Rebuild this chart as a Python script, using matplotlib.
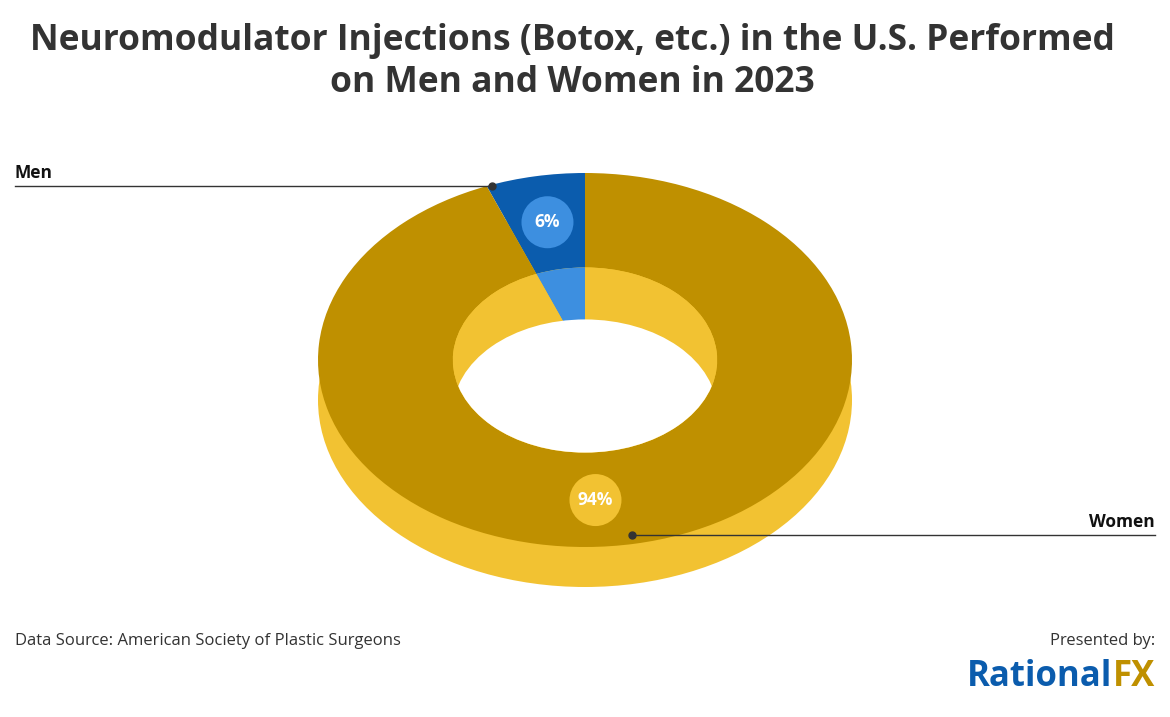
import matplotlib.pyplot as plt
from matplotlib.patches import Wedge, Ellipse, Circle
from matplotlib.transforms import Affine2D
import numpy as np

labels = ['Men', 'Women']
shares = [6, 94]
pct_text = ['6%', '94%']

top_cols = ['#0B5CAD', '#BF9000']
wall_cols = ['#3D8FE0', '#F2C232']

FONT = 'Open Sans'

fig = plt.figure(figsize=(11.7, 7.17), dpi=100)
ax = fig.add_axes([0, 0, 1, 1])
ax.set_xlim(0, 1170)
ax.set_ylim(717, 0)
ax.axis('off')

cx, cy = 585, 360
rx, ry = 267, 187
inner = 0.495
depth = 40

def ell(dy=0):
    return Affine2D().scale(rx, ry).translate(cx, cy + dy) + ax.transData

# side of the ring
ax.add_patch(Circle((0, 0), 1, transform=ell(depth), color='#F2C232', lw=0))

# angles (y axis is inverted, 270 = top of the ring)
angles = []
start = 270 - shares[0] * 3.6
for s in shares:
    angles.append((start, start + s * 3.6))
    start += s * 3.6

# ring top face
for (a1, a2), c in zip(angles, top_cols):
    ax.add_patch(Wedge((0, 0), 1, a1, a2, width=1 - inner, transform=ell(), color=c, lw=0))

# inner wall seen through the hole
for (a1, a2), c in zip(angles, wall_cols):
    ax.add_patch(Wedge((0, 0), inner, a1, a2, transform=ell(), color=c, lw=0))
clip = Circle((0, 0), inner, transform=ell(), fc='none', ec='none')
ax.add_patch(clip)
hole = Circle((0, 0), inner, transform=ell(depth * 1.3), color='white', lw=0)
ax.add_patch(hole)
hole.set_clip_path(clip)

# percentage badges
label_ang = [np.mean(angles[0]), 87]
badge_cols = ['#3D8FE0', '#F2C232']
for ang, t, bc in zip(label_ang, pct_text, badge_cols):
    r = 0.75
    x = cx + rx * r * np.cos(np.radians(ang))
    y = cy + ry * r * np.sin(np.radians(ang))
    ax.add_patch(Ellipse((x, y), 52, 52, color=bc, lw=0))
    ax.text(x, y, t, ha='center', va='center', color='white', fontsize=12.5,
            fontweight='bold', family=FONT)

# leader lines
ax.plot([15, 492], [186, 186], color='#333333', lw=1)
ax.plot(492, 186, 'o', color='#333333', ms=5)
ax.text(15, 182, labels[0], ha='left', va='bottom', fontsize=12.5, family=FONT,
        fontweight='bold', color='#111111')
ax.plot([632, 1155], [535, 535], color='#333333', lw=1)
ax.plot(632, 535, 'o', color='#333333', ms=5)
ax.text(1155, 531, labels[1], ha='right', va='bottom', fontsize=12.5, family=FONT,
        fontweight='bold', color='#111111')

ax.text(572, 62, 'Neuromodulator Injections (Botox, etc.) in the U.S. Performed\non Men and Women in 2023',
        ha='center', va='center', fontsize=25.5, fontweight='bold', family=FONT,
        color='#333333', linespacing=1.25)

ax.text(15, 641, 'Data Source: American Society of Plastic Surgeons', ha='left', va='center',
        fontsize=12, family=FONT, color='#333333')
ax.text(1155, 641, 'Presented by:', ha='right', va='center', fontsize=12, family=FONT,
        color='#333333')
t1 = ax.text(1155, 677, 'FX', ha='right', va='center', fontsize=25, fontweight='bold',
             family=FONT, color='#BF9000')
fig.canvas.draw()
bb = t1.get_window_extent()
x_fx = ax.transData.inverted().transform((bb.x0, bb.y0))[0]
ax.text(x_fx, 677, 'Rational', ha='right', va='center', fontsize=25, fontweight='bold',
        family=FONT, color='#0B5CAD')

fig.savefig('out.png', dpi=100)
